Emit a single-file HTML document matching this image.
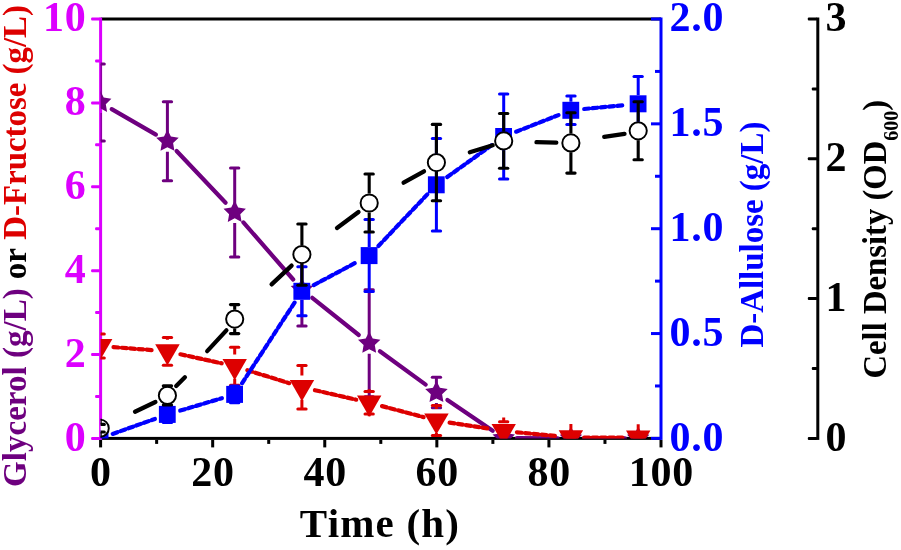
<!DOCTYPE html>
<html><head><meta charset="utf-8"><title>chart</title>
<style>html,body{margin:0;padding:0;background:#fff;}body{width:901px;height:550px;overflow:hidden;font-family:"Liberation Serif",serif;}</style>
</head><body>
<svg width="901" height="550" viewBox="0 0 901 550" style="display:block;will-change:transform">
<rect width="901" height="550" fill="#fff"/>
<defs><clipPath id="plot"><rect x="100.6" y="19.0" width="560.4" height="419.4"/></clipPath></defs>
<rect x="100.6" y="17.5" width="560.4" height="3.0" fill="#000000"/>
<rect x="100.6" y="436.9" width="560.4" height="3.0" fill="#000000"/>
<rect x="99.10" y="439.90" width="3.0" height="7.5" fill="#000000"/>
<rect x="155.14" y="439.90" width="3.0" height="4.0" fill="#000000"/>
<rect x="211.18" y="439.90" width="3.0" height="7.5" fill="#000000"/>
<rect x="267.22" y="439.90" width="3.0" height="4.0" fill="#000000"/>
<rect x="323.26" y="439.90" width="3.0" height="7.5" fill="#000000"/>
<rect x="379.30" y="439.90" width="3.0" height="4.0" fill="#000000"/>
<rect x="435.34" y="439.90" width="3.0" height="7.5" fill="#000000"/>
<rect x="491.38" y="439.90" width="3.0" height="4.0" fill="#000000"/>
<rect x="547.42" y="439.90" width="3.0" height="7.5" fill="#000000"/>
<rect x="603.46" y="439.90" width="3.0" height="4.0" fill="#000000"/>
<rect x="659.50" y="439.90" width="3.0" height="7.5" fill="#000000"/>
<rect x="99.10" y="17.50" width="3.0" height="422.40" fill="#DC00FF"/>
<rect x="91.10" y="436.90" width="9.0" height="3.0" rx="1" fill="#DC00FF"/>
<rect x="95.10" y="394.96" width="5.0" height="3.0" rx="1" fill="#DC00FF"/>
<rect x="91.10" y="353.02" width="9.0" height="3.0" rx="1" fill="#DC00FF"/>
<rect x="95.10" y="311.08" width="5.0" height="3.0" rx="1" fill="#DC00FF"/>
<rect x="91.10" y="269.14" width="9.0" height="3.0" rx="1" fill="#DC00FF"/>
<rect x="95.10" y="227.20" width="5.0" height="3.0" rx="1" fill="#DC00FF"/>
<rect x="91.10" y="185.26" width="9.0" height="3.0" rx="1" fill="#DC00FF"/>
<rect x="95.10" y="143.32" width="5.0" height="3.0" rx="1" fill="#DC00FF"/>
<rect x="91.10" y="101.38" width="9.0" height="3.0" rx="1" fill="#DC00FF"/>
<rect x="95.10" y="59.44" width="5.0" height="3.0" rx="1" fill="#DC00FF"/>
<rect x="91.10" y="17.50" width="9.0" height="3.0" rx="1" fill="#DC00FF"/>
<rect x="659.50" y="17.50" width="3.0" height="422.40" fill="#0000FF"/>
<rect x="651.00" y="436.90" width="9.5" height="3.0" fill="#0000FF"/>
<rect x="655.00" y="384.47" width="5.5" height="3.0" fill="#0000FF"/>
<rect x="651.00" y="332.05" width="9.5" height="3.0" fill="#0000FF"/>
<rect x="655.00" y="279.62" width="5.5" height="3.0" fill="#0000FF"/>
<rect x="651.00" y="227.20" width="9.5" height="3.0" fill="#0000FF"/>
<rect x="655.00" y="174.77" width="5.5" height="3.0" fill="#0000FF"/>
<rect x="651.00" y="122.35" width="9.5" height="3.0" fill="#0000FF"/>
<rect x="655.00" y="69.93" width="5.5" height="3.0" fill="#0000FF"/>
<rect x="651.00" y="17.50" width="9.5" height="3.0" fill="#0000FF"/>
<rect x="816.30" y="17.50" width="3.0" height="422.40" fill="#000000"/>
<rect x="807.80" y="436.90" width="9.5" height="3.0" rx="1" fill="#000000"/>
<rect x="811.80" y="367.00" width="5.5" height="3.0" rx="1" fill="#000000"/>
<rect x="807.80" y="297.10" width="9.5" height="3.0" rx="1" fill="#000000"/>
<rect x="811.80" y="227.20" width="5.5" height="3.0" rx="1" fill="#000000"/>
<rect x="807.80" y="157.30" width="9.5" height="3.0" rx="1" fill="#000000"/>
<rect x="811.80" y="87.40" width="5.5" height="3.0" rx="1" fill="#000000"/>
<rect x="807.80" y="17.50" width="9.5" height="3.0" rx="1" fill="#000000"/>
<g clip-path="url(#plot)">
<line x1="111.7" y1="109.1" x2="155.9" y2="134.6" stroke="#6E007F" stroke-width="4.2" stroke-linecap="round"/>
<line x1="176.6" y1="151.0" x2="225.6" y2="202.7" stroke="#6E007F" stroke-width="4.2" stroke-linecap="round"/>
<line x1="243.4" y1="222.4" x2="293.2" y2="279.5" stroke="#6E007F" stroke-width="4.2" stroke-linecap="round"/>
<line x1="312.3" y1="297.8" x2="358.8" y2="335.0" stroke="#6E007F" stroke-width="4.2" stroke-linecap="round"/>
<line x1="379.9" y1="351.2" x2="425.7" y2="384.6" stroke="#6E007F" stroke-width="4.2" stroke-linecap="round"/>
<line x1="447.4" y1="400.0" x2="492.7" y2="430.7" stroke="#6E007F" stroke-width="4.2" stroke-linecap="round"/>
<line x1="517.0" y1="438.2" x2="557.6" y2="438.4" stroke="#6E007F" stroke-width="4.2" stroke-linecap="round"/>
<line x1="584.2" y1="438.4" x2="624.9" y2="438.4" stroke="#6E007F" stroke-width="4.2" stroke-linecap="round"/>
<line x1="100.2" y1="94.4" x2="100.2" y2="63.9" stroke="#6E007F" stroke-width="3.0"/>
<line x1="96.0" y1="63.9" x2="104.3" y2="63.9" stroke="#6E007F" stroke-width="3.0" stroke-linecap="round"/>
<line x1="100.2" y1="112.9" x2="100.2" y2="140.9" stroke="#6E007F" stroke-width="3.0"/>
<line x1="96.0" y1="140.9" x2="104.3" y2="140.9" stroke="#6E007F" stroke-width="3.0" stroke-linecap="round"/>
<line x1="167.4" y1="133.3" x2="167.4" y2="101.8" stroke="#6E007F" stroke-width="3.0"/>
<line x1="163.3" y1="101.8" x2="171.6" y2="101.8" stroke="#6E007F" stroke-width="3.0" stroke-linecap="round"/>
<line x1="167.4" y1="151.8" x2="167.4" y2="180.8" stroke="#6E007F" stroke-width="3.0"/>
<line x1="163.3" y1="180.8" x2="171.6" y2="180.8" stroke="#6E007F" stroke-width="3.0" stroke-linecap="round"/>
<line x1="234.7" y1="204.4" x2="234.7" y2="167.9" stroke="#6E007F" stroke-width="3.0"/>
<line x1="230.5" y1="167.9" x2="238.8" y2="167.9" stroke="#6E007F" stroke-width="3.0" stroke-linecap="round"/>
<line x1="234.7" y1="222.9" x2="234.7" y2="256.9" stroke="#6E007F" stroke-width="3.0"/>
<line x1="230.5" y1="256.9" x2="238.8" y2="256.9" stroke="#6E007F" stroke-width="3.0" stroke-linecap="round"/>
<line x1="301.9" y1="281.5" x2="301.9" y2="253.0" stroke="#6E007F" stroke-width="3.0"/>
<line x1="297.8" y1="253.0" x2="306.1" y2="253.0" stroke="#6E007F" stroke-width="3.0" stroke-linecap="round"/>
<line x1="301.9" y1="300.0" x2="301.9" y2="326.0" stroke="#6E007F" stroke-width="3.0"/>
<line x1="297.8" y1="326.0" x2="306.1" y2="326.0" stroke="#6E007F" stroke-width="3.0" stroke-linecap="round"/>
<line x1="369.2" y1="335.3" x2="369.2" y2="289.8" stroke="#6E007F" stroke-width="3.0"/>
<line x1="365.0" y1="289.8" x2="373.3" y2="289.8" stroke="#6E007F" stroke-width="3.0" stroke-linecap="round"/>
<line x1="369.2" y1="353.8" x2="369.2" y2="396.8" stroke="#6E007F" stroke-width="3.0"/>
<line x1="365.0" y1="396.8" x2="373.3" y2="396.8" stroke="#6E007F" stroke-width="3.0" stroke-linecap="round"/>
<line x1="436.4" y1="384.5" x2="436.4" y2="377.2" stroke="#6E007F" stroke-width="3.0"/>
<line x1="432.3" y1="377.2" x2="440.6" y2="377.2" stroke="#6E007F" stroke-width="3.0" stroke-linecap="round"/>
<line x1="436.4" y1="403.0" x2="436.4" y2="407.8" stroke="#6E007F" stroke-width="3.0"/>
<line x1="432.3" y1="407.8" x2="440.6" y2="407.8" stroke="#6E007F" stroke-width="3.0" stroke-linecap="round"/>
<polygon points="100.2,90.6 103.7,97.6 111.4,98.8 105.8,104.2 107.1,111.9 100.2,108.3 93.3,111.9 94.6,104.2 89.0,98.8 96.7,97.6" fill="#6E007F"/>
<polygon points="167.4,129.5 170.9,136.5 178.7,137.7 173.1,143.1 174.4,150.8 167.4,147.2 160.5,150.8 161.8,143.1 156.2,137.7 164.0,136.5" fill="#6E007F"/>
<polygon points="234.7,200.6 238.2,207.6 245.9,208.8 240.3,214.2 241.6,221.9 234.7,218.3 227.8,221.9 229.1,214.2 223.5,208.8 231.2,207.6" fill="#6E007F"/>
<polygon points="301.9,277.7 305.4,284.7 313.2,285.9 307.6,291.3 308.9,299.0 301.9,295.4 295.0,299.0 296.3,291.3 290.7,285.9 298.5,284.7" fill="#6E007F"/>
<polygon points="369.2,331.5 372.7,338.5 380.4,339.7 374.8,345.1 376.1,352.8 369.2,349.2 362.3,352.8 363.6,345.1 358.0,339.7 365.7,338.5" fill="#6E007F"/>
<polygon points="436.4,380.7 439.9,387.7 447.7,388.9 442.1,394.3 443.4,402.0 436.4,398.4 429.5,402.0 430.8,394.3 425.2,388.9 433.0,387.7" fill="#6E007F"/>
<polygon points="503.7,426.4 507.2,433.4 514.9,434.6 509.3,440.0 510.6,447.7 503.7,444.1 496.8,447.7 498.1,440.0 492.5,434.6 500.2,433.4" fill="#6E007F"/>
<polygon points="570.9,426.6 574.4,433.6 582.2,434.8 576.5,440.2 577.9,447.9 570.9,444.3 564.0,447.9 565.3,440.2 559.7,434.8 567.5,433.6" fill="#6E007F"/>
<polygon points="638.2,426.6 641.7,433.6 649.4,434.8 643.8,440.2 645.1,447.9 638.2,444.3 631.2,447.9 632.6,440.2 627.0,434.8 634.7,433.6" fill="#6E007F"/>
<line x1="113.5" y1="347.1" x2="154.2" y2="350.3" stroke="#DD0000" stroke-width="4.2" stroke-linecap="round" stroke-dasharray="5 3.3"/>
<line x1="180.4" y1="354.3" x2="221.7" y2="363.3" stroke="#DD0000" stroke-width="4.2" stroke-linecap="round" stroke-dasharray="5 3.3"/>
<line x1="247.4" y1="370.2" x2="289.2" y2="383.2" stroke="#DD0000" stroke-width="4.2" stroke-linecap="round" stroke-dasharray="5 3.3"/>
<line x1="314.9" y1="390.2" x2="356.2" y2="399.7" stroke="#DD0000" stroke-width="4.2" stroke-linecap="round" stroke-dasharray="5 3.3"/>
<line x1="382.0" y1="406.1" x2="423.6" y2="417.1" stroke="#DD0000" stroke-width="4.2" stroke-linecap="round" stroke-dasharray="5 3.3"/>
<line x1="449.6" y1="422.6" x2="490.5" y2="428.9" stroke="#DD0000" stroke-width="4.2" stroke-linecap="round" stroke-dasharray="5 3.3"/>
<line x1="516.9" y1="432.3" x2="557.7" y2="436.1" stroke="#DD0000" stroke-width="4.2" stroke-linecap="round" stroke-dasharray="5 3.3"/>
<line x1="584.2" y1="437.5" x2="624.9" y2="437.6" stroke="#DD0000" stroke-width="4.2" stroke-linecap="round" stroke-dasharray="5 3.3"/>
<line x1="100.2" y1="334.4" x2="100.2" y2="334.0" stroke="#DD0000" stroke-width="3.0"/>
<line x1="96.0" y1="334.0" x2="104.3" y2="334.0" stroke="#DD0000" stroke-width="3.0" stroke-linecap="round"/>
<line x1="100.2" y1="358.5" x2="100.2" y2="358.0" stroke="#DD0000" stroke-width="3.0"/>
<line x1="96.0" y1="358.0" x2="104.3" y2="358.0" stroke="#DD0000" stroke-width="3.0" stroke-linecap="round"/>
<line x1="167.4" y1="339.8" x2="167.4" y2="337.5" stroke="#DD0000" stroke-width="3.0"/>
<line x1="163.3" y1="337.5" x2="171.6" y2="337.5" stroke="#DD0000" stroke-width="3.0" stroke-linecap="round"/>
<line x1="167.4" y1="363.9" x2="167.4" y2="365.3" stroke="#DD0000" stroke-width="3.0"/>
<line x1="163.3" y1="365.3" x2="171.6" y2="365.3" stroke="#DD0000" stroke-width="3.0" stroke-linecap="round"/>
<line x1="234.7" y1="354.6" x2="234.7" y2="347.2" stroke="#DD0000" stroke-width="3.0"/>
<line x1="230.5" y1="347.2" x2="238.8" y2="347.2" stroke="#DD0000" stroke-width="3.0" stroke-linecap="round"/>
<line x1="234.7" y1="378.7" x2="234.7" y2="385.2" stroke="#DD0000" stroke-width="3.0"/>
<line x1="230.5" y1="385.2" x2="238.8" y2="385.2" stroke="#DD0000" stroke-width="3.0" stroke-linecap="round"/>
<line x1="301.9" y1="375.6" x2="301.9" y2="365.5" stroke="#DD0000" stroke-width="3.0"/>
<line x1="297.8" y1="365.5" x2="306.1" y2="365.5" stroke="#DD0000" stroke-width="3.0" stroke-linecap="round"/>
<line x1="301.9" y1="399.7" x2="301.9" y2="408.9" stroke="#DD0000" stroke-width="3.0"/>
<line x1="297.8" y1="408.9" x2="306.1" y2="408.9" stroke="#DD0000" stroke-width="3.0" stroke-linecap="round"/>
<line x1="369.2" y1="389.2" x2="369.2" y2="391.4" stroke="#DD0000" stroke-width="3.0"/>
<line x1="365.0" y1="391.4" x2="373.3" y2="391.4" stroke="#DD0000" stroke-width="3.0" stroke-linecap="round"/>
<line x1="369.2" y1="416.2" x2="369.2" y2="414.0" stroke="#DD0000" stroke-width="3.0"/>
<line x1="365.0" y1="414.0" x2="373.3" y2="414.0" stroke="#DD0000" stroke-width="3.0" stroke-linecap="round"/>
<line x1="436.4" y1="408.9" x2="436.4" y2="405.5" stroke="#DD0000" stroke-width="3.0"/>
<line x1="432.3" y1="405.5" x2="440.6" y2="405.5" stroke="#DD0000" stroke-width="3.0" stroke-linecap="round"/>
<line x1="436.4" y1="433.0" x2="436.4" y2="435.5" stroke="#DD0000" stroke-width="3.0"/>
<line x1="432.3" y1="435.5" x2="440.6" y2="435.5" stroke="#DD0000" stroke-width="3.0" stroke-linecap="round"/>
<line x1="503.7" y1="417.5" x2="503.7" y2="421.8" stroke="#DD0000" stroke-width="3.0"/>
<line x1="499.5" y1="421.8" x2="507.8" y2="421.8" stroke="#DD0000" stroke-width="3.0" stroke-linecap="round"/>
<line x1="503.7" y1="444.5" x2="503.7" y2="440.2" stroke="#DD0000" stroke-width="3.0"/>
<line x1="499.5" y1="440.2" x2="507.8" y2="440.2" stroke="#DD0000" stroke-width="3.0" stroke-linecap="round"/>
<line x1="570.9" y1="423.9" x2="570.9" y2="435.4" stroke="#DD0000" stroke-width="3.0"/>
<line x1="566.8" y1="435.4" x2="575.1" y2="435.4" stroke="#DD0000" stroke-width="3.0" stroke-linecap="round"/>
<line x1="570.9" y1="450.9" x2="570.9" y2="439.4" stroke="#DD0000" stroke-width="3.0"/>
<line x1="566.8" y1="439.4" x2="575.1" y2="439.4" stroke="#DD0000" stroke-width="3.0" stroke-linecap="round"/>
<line x1="638.2" y1="424.2" x2="638.2" y2="435.7" stroke="#DD0000" stroke-width="3.0"/>
<line x1="634.0" y1="435.7" x2="642.3" y2="435.7" stroke="#DD0000" stroke-width="3.0" stroke-linecap="round"/>
<line x1="638.2" y1="451.2" x2="638.2" y2="439.7" stroke="#DD0000" stroke-width="3.0"/>
<line x1="634.0" y1="439.7" x2="642.3" y2="439.7" stroke="#DD0000" stroke-width="3.0" stroke-linecap="round"/>
<polygon points="88.0,338.9 112.4,338.9 100.2,360.1" fill="#DD0000"/>
<polygon points="155.2,344.3 179.7,344.3 167.4,365.5" fill="#DD0000"/>
<polygon points="222.5,359.1 246.9,359.1 234.7,380.3" fill="#DD0000"/>
<polygon points="289.7,380.1 314.2,380.1 301.9,401.3" fill="#DD0000"/>
<polygon points="357.0,395.6 381.4,395.6 369.2,416.8" fill="#DD0000"/>
<polygon points="424.2,413.4 448.7,413.4 436.4,434.6" fill="#DD0000"/>
<polygon points="491.5,423.9 515.9,423.9 503.7,445.1" fill="#DD0000"/>
<polygon points="558.7,430.3 583.1,430.3 570.9,451.5" fill="#DD0000"/>
<polygon points="626.0,430.6 650.4,430.6 638.2,451.8" fill="#DD0000"/>
<line x1="112.7" y1="433.9" x2="154.9" y2="418.9" stroke="#0000FF" stroke-width="4.2" stroke-linecap="round" stroke-dasharray="5 3.3"/>
<line x1="180.2" y1="410.6" x2="221.9" y2="398.2" stroke="#0000FF" stroke-width="4.2" stroke-linecap="round" stroke-dasharray="5 3.3"/>
<line x1="242.0" y1="383.3" x2="294.7" y2="302.4" stroke="#0000FF" stroke-width="4.2" stroke-linecap="round" stroke-dasharray="5 3.3"/>
<line x1="313.7" y1="285.1" x2="357.4" y2="261.8" stroke="#0000FF" stroke-width="4.2" stroke-linecap="round" stroke-dasharray="5 3.3"/>
<line x1="378.4" y1="246.0" x2="427.3" y2="194.4" stroke="#0000FF" stroke-width="4.2" stroke-linecap="round" stroke-dasharray="5 3.3"/>
<line x1="447.2" y1="177.0" x2="492.9" y2="144.3" stroke="#0000FF" stroke-width="4.2" stroke-linecap="round" stroke-dasharray="5 3.3"/>
<line x1="516.1" y1="131.7" x2="558.5" y2="115.1" stroke="#0000FF" stroke-width="4.2" stroke-linecap="round" stroke-dasharray="5 3.3"/>
<line x1="584.2" y1="109.0" x2="624.9" y2="105.1" stroke="#0000FF" stroke-width="4.2" stroke-linecap="round" stroke-dasharray="5 3.3"/>
<line x1="167.4" y1="405.9" x2="167.4" y2="406.4" stroke="#0000FF" stroke-width="3.0"/>
<line x1="163.3" y1="406.4" x2="171.6" y2="406.4" stroke="#0000FF" stroke-width="3.0" stroke-linecap="round"/>
<line x1="167.4" y1="422.9" x2="167.4" y2="422.4" stroke="#0000FF" stroke-width="3.0"/>
<line x1="163.3" y1="422.4" x2="171.6" y2="422.4" stroke="#0000FF" stroke-width="3.0" stroke-linecap="round"/>
<line x1="234.7" y1="385.9" x2="234.7" y2="386.1" stroke="#0000FF" stroke-width="3.0"/>
<line x1="230.5" y1="386.1" x2="238.8" y2="386.1" stroke="#0000FF" stroke-width="3.0" stroke-linecap="round"/>
<line x1="234.7" y1="402.9" x2="234.7" y2="402.7" stroke="#0000FF" stroke-width="3.0"/>
<line x1="230.5" y1="402.7" x2="238.8" y2="402.7" stroke="#0000FF" stroke-width="3.0" stroke-linecap="round"/>
<line x1="301.9" y1="282.8" x2="301.9" y2="266.8" stroke="#0000FF" stroke-width="3.0"/>
<line x1="297.8" y1="266.8" x2="306.1" y2="266.8" stroke="#0000FF" stroke-width="3.0" stroke-linecap="round"/>
<line x1="301.9" y1="299.8" x2="301.9" y2="315.8" stroke="#0000FF" stroke-width="3.0"/>
<line x1="297.8" y1="315.8" x2="306.1" y2="315.8" stroke="#0000FF" stroke-width="3.0" stroke-linecap="round"/>
<line x1="369.2" y1="247.1" x2="369.2" y2="219.6" stroke="#0000FF" stroke-width="3.0"/>
<line x1="365.0" y1="219.6" x2="373.3" y2="219.6" stroke="#0000FF" stroke-width="3.0" stroke-linecap="round"/>
<line x1="369.2" y1="264.1" x2="369.2" y2="291.6" stroke="#0000FF" stroke-width="3.0"/>
<line x1="365.0" y1="291.6" x2="373.3" y2="291.6" stroke="#0000FF" stroke-width="3.0" stroke-linecap="round"/>
<line x1="436.4" y1="176.3" x2="436.4" y2="138.5" stroke="#0000FF" stroke-width="3.0"/>
<line x1="432.3" y1="138.5" x2="440.6" y2="138.5" stroke="#0000FF" stroke-width="3.0" stroke-linecap="round"/>
<line x1="436.4" y1="193.3" x2="436.4" y2="231.1" stroke="#0000FF" stroke-width="3.0"/>
<line x1="432.3" y1="231.1" x2="440.6" y2="231.1" stroke="#0000FF" stroke-width="3.0" stroke-linecap="round"/>
<line x1="503.7" y1="128.0" x2="503.7" y2="93.9" stroke="#0000FF" stroke-width="3.0"/>
<line x1="499.5" y1="93.9" x2="507.8" y2="93.9" stroke="#0000FF" stroke-width="3.0" stroke-linecap="round"/>
<line x1="503.7" y1="145.0" x2="503.7" y2="179.1" stroke="#0000FF" stroke-width="3.0"/>
<line x1="499.5" y1="179.1" x2="507.8" y2="179.1" stroke="#0000FF" stroke-width="3.0" stroke-linecap="round"/>
<line x1="570.9" y1="101.8" x2="570.9" y2="96.0" stroke="#0000FF" stroke-width="3.0"/>
<line x1="566.8" y1="96.0" x2="575.1" y2="96.0" stroke="#0000FF" stroke-width="3.0" stroke-linecap="round"/>
<line x1="570.9" y1="118.8" x2="570.9" y2="124.6" stroke="#0000FF" stroke-width="3.0"/>
<line x1="566.8" y1="124.6" x2="575.1" y2="124.6" stroke="#0000FF" stroke-width="3.0" stroke-linecap="round"/>
<line x1="638.2" y1="95.3" x2="638.2" y2="76.5" stroke="#0000FF" stroke-width="3.0"/>
<line x1="634.0" y1="76.5" x2="642.3" y2="76.5" stroke="#0000FF" stroke-width="3.0" stroke-linecap="round"/>
<line x1="638.2" y1="112.3" x2="638.2" y2="131.1" stroke="#0000FF" stroke-width="3.0"/>
<line x1="634.0" y1="131.1" x2="642.3" y2="131.1" stroke="#0000FF" stroke-width="3.0" stroke-linecap="round"/>
<rect x="91.7" y="429.9" width="16.8" height="17" fill="#0000FF"/>
<rect x="158.9" y="405.9" width="16.8" height="17" fill="#0000FF"/>
<rect x="226.2" y="385.9" width="16.8" height="17" fill="#0000FF"/>
<rect x="293.4" y="282.8" width="16.8" height="17" fill="#0000FF"/>
<rect x="360.7" y="247.1" width="16.8" height="17" fill="#0000FF"/>
<rect x="427.9" y="176.3" width="16.8" height="17" fill="#0000FF"/>
<rect x="495.2" y="128.0" width="16.8" height="17" fill="#0000FF"/>
<rect x="562.4" y="101.8" width="16.8" height="17" fill="#0000FF"/>
<rect x="629.7" y="95.3" width="16.8" height="17" fill="#0000FF"/>
<line x1="135.0" y1="411.7" x2="155.4" y2="402.0" stroke="#000000" stroke-width="4.3" stroke-linecap="round"/>
<line x1="176.2" y1="386.0" x2="184.9" y2="377.3" stroke="#000000" stroke-width="4.3" stroke-linecap="round"/>
<line x1="207.2" y1="351.1" x2="226.4" y2="330.4" stroke="#000000" stroke-width="4.3" stroke-linecap="round"/>
<line x1="271.6" y1="284.4" x2="291.6" y2="265.6" stroke="#000000" stroke-width="4.3" stroke-linecap="round"/>
<line x1="337.0" y1="228.0" x2="358.5" y2="212.0" stroke="#000000" stroke-width="4.3" stroke-linecap="round"/>
<line x1="403.6" y1="182.7" x2="424.0" y2="171.3" stroke="#000000" stroke-width="4.3" stroke-linecap="round"/>
<line x1="469.8" y1="152.2" x2="492.7" y2="145.3" stroke="#000000" stroke-width="4.3" stroke-linecap="round"/>
<line x1="536.5" y1="142.2" x2="556.3" y2="142.7" stroke="#000000" stroke-width="4.3" stroke-linecap="round"/>
<line x1="604.2" y1="136.8" x2="624.5" y2="133.8" stroke="#000000" stroke-width="4.3" stroke-linecap="round"/>
<circle cx="100.2" cy="428.2" r="8.6" fill="#fff" stroke="#000000" stroke-width="1.95"/>
<circle cx="167.4" cy="395.4" r="8.6" fill="#fff" stroke="#000000" stroke-width="1.95"/>
<circle cx="234.7" cy="319.1" r="8.6" fill="#fff" stroke="#000000" stroke-width="1.95"/>
<circle cx="301.9" cy="254.6" r="8.6" fill="#fff" stroke="#000000" stroke-width="1.95"/>
<circle cx="369.2" cy="203.0" r="8.6" fill="#fff" stroke="#000000" stroke-width="1.95"/>
<circle cx="436.4" cy="162.6" r="8.6" fill="#fff" stroke="#000000" stroke-width="1.95"/>
<circle cx="503.7" cy="140.9" r="8.6" fill="#fff" stroke="#000000" stroke-width="1.95"/>
<circle cx="570.9" cy="142.9" r="8.6" fill="#fff" stroke="#000000" stroke-width="1.95"/>
<circle cx="638.2" cy="130.8" r="8.6" fill="#fff" stroke="#000000" stroke-width="1.95"/>
<line x1="100.2" y1="418.8" x2="100.2" y2="424.4" stroke="#000000" stroke-width="3.1"/>
<line x1="96.0" y1="424.4" x2="104.3" y2="424.4" stroke="#000000" stroke-width="3.1" stroke-linecap="round"/>
<line x1="100.2" y1="437.6" x2="100.2" y2="432.0" stroke="#000000" stroke-width="3.1"/>
<line x1="96.0" y1="432.0" x2="104.3" y2="432.0" stroke="#000000" stroke-width="3.1" stroke-linecap="round"/>
<line x1="167.4" y1="386.0" x2="167.4" y2="385.8" stroke="#000000" stroke-width="3.1"/>
<line x1="163.3" y1="385.8" x2="171.6" y2="385.8" stroke="#000000" stroke-width="3.1" stroke-linecap="round"/>
<line x1="167.4" y1="404.8" x2="167.4" y2="405.0" stroke="#000000" stroke-width="3.1"/>
<line x1="163.3" y1="405.0" x2="171.6" y2="405.0" stroke="#000000" stroke-width="3.1" stroke-linecap="round"/>
<line x1="234.7" y1="309.7" x2="234.7" y2="304.6" stroke="#000000" stroke-width="3.1"/>
<line x1="230.5" y1="304.6" x2="238.8" y2="304.6" stroke="#000000" stroke-width="3.1" stroke-linecap="round"/>
<line x1="234.7" y1="328.5" x2="234.7" y2="333.6" stroke="#000000" stroke-width="3.1"/>
<line x1="230.5" y1="333.6" x2="238.8" y2="333.6" stroke="#000000" stroke-width="3.1" stroke-linecap="round"/>
<line x1="301.9" y1="245.2" x2="301.9" y2="224.0" stroke="#000000" stroke-width="3.1"/>
<line x1="297.8" y1="224.0" x2="306.1" y2="224.0" stroke="#000000" stroke-width="3.1" stroke-linecap="round"/>
<line x1="301.9" y1="264.0" x2="301.9" y2="285.2" stroke="#000000" stroke-width="3.1"/>
<line x1="297.8" y1="285.2" x2="306.1" y2="285.2" stroke="#000000" stroke-width="3.1" stroke-linecap="round"/>
<line x1="369.2" y1="193.6" x2="369.2" y2="174.0" stroke="#000000" stroke-width="3.1"/>
<line x1="365.0" y1="174.0" x2="373.3" y2="174.0" stroke="#000000" stroke-width="3.1" stroke-linecap="round"/>
<line x1="369.2" y1="212.4" x2="369.2" y2="232.0" stroke="#000000" stroke-width="3.1"/>
<line x1="365.0" y1="232.0" x2="373.3" y2="232.0" stroke="#000000" stroke-width="3.1" stroke-linecap="round"/>
<line x1="436.4" y1="153.2" x2="436.4" y2="124.4" stroke="#000000" stroke-width="3.1"/>
<line x1="432.3" y1="124.4" x2="440.6" y2="124.4" stroke="#000000" stroke-width="3.1" stroke-linecap="round"/>
<line x1="436.4" y1="172.0" x2="436.4" y2="200.8" stroke="#000000" stroke-width="3.1"/>
<line x1="432.3" y1="200.8" x2="440.6" y2="200.8" stroke="#000000" stroke-width="3.1" stroke-linecap="round"/>
<line x1="503.7" y1="131.5" x2="503.7" y2="113.5" stroke="#000000" stroke-width="3.1"/>
<line x1="499.5" y1="113.5" x2="507.8" y2="113.5" stroke="#000000" stroke-width="3.1" stroke-linecap="round"/>
<line x1="503.7" y1="150.3" x2="503.7" y2="168.3" stroke="#000000" stroke-width="3.1"/>
<line x1="499.5" y1="168.3" x2="507.8" y2="168.3" stroke="#000000" stroke-width="3.1" stroke-linecap="round"/>
<line x1="570.9" y1="133.5" x2="570.9" y2="112.7" stroke="#000000" stroke-width="3.1"/>
<line x1="566.8" y1="112.7" x2="575.1" y2="112.7" stroke="#000000" stroke-width="3.1" stroke-linecap="round"/>
<line x1="570.9" y1="152.3" x2="570.9" y2="173.1" stroke="#000000" stroke-width="3.1"/>
<line x1="566.8" y1="173.1" x2="575.1" y2="173.1" stroke="#000000" stroke-width="3.1" stroke-linecap="round"/>
<line x1="638.2" y1="121.4" x2="638.2" y2="101.8" stroke="#000000" stroke-width="3.1"/>
<line x1="634.0" y1="101.8" x2="642.3" y2="101.8" stroke="#000000" stroke-width="3.1" stroke-linecap="round"/>
<line x1="638.2" y1="140.2" x2="638.2" y2="159.8" stroke="#000000" stroke-width="3.1"/>
<line x1="634.0" y1="159.8" x2="642.3" y2="159.8" stroke="#000000" stroke-width="3.1" stroke-linecap="round"/>
</g>
<text x="86.6" y="450.6" font-size="42" fill="#DC00FF" text-anchor="end" letter-spacing="0.8" font-family="'Liberation Serif', serif" font-weight="bold">0</text>
<text x="86.6" y="366.7" font-size="42" fill="#DC00FF" text-anchor="end" letter-spacing="0.8" font-family="'Liberation Serif', serif" font-weight="bold">2</text>
<text x="86.6" y="282.8" font-size="42" fill="#DC00FF" text-anchor="end" letter-spacing="0.8" font-family="'Liberation Serif', serif" font-weight="bold">4</text>
<text x="86.6" y="199.0" font-size="42" fill="#DC00FF" text-anchor="end" letter-spacing="0.8" font-family="'Liberation Serif', serif" font-weight="bold">6</text>
<text x="86.6" y="115.1" font-size="42" fill="#DC00FF" text-anchor="end" letter-spacing="0.8" font-family="'Liberation Serif', serif" font-weight="bold">8</text>
<text x="86.6" y="31.2" font-size="42" fill="#DC00FF" text-anchor="end" letter-spacing="0.8" font-family="'Liberation Serif', serif" font-weight="bold">10</text>
<text x="669.5" y="450.6" font-size="42" fill="#0000FF" letter-spacing="0.8" font-family="'Liberation Serif', serif" font-weight="bold">0.0</text>
<text x="669.5" y="345.7" font-size="42" fill="#0000FF" letter-spacing="0.8" font-family="'Liberation Serif', serif" font-weight="bold">0.5</text>
<text x="669.5" y="240.9" font-size="42" fill="#0000FF" letter-spacing="0.8" font-family="'Liberation Serif', serif" font-weight="bold">1.0</text>
<text x="669.5" y="136.1" font-size="42" fill="#0000FF" letter-spacing="0.8" font-family="'Liberation Serif', serif" font-weight="bold">1.5</text>
<text x="669.5" y="31.2" font-size="42" fill="#0000FF" letter-spacing="0.8" font-family="'Liberation Serif', serif" font-weight="bold">2.0</text>
<text x="825.4" y="450.6" font-size="42" fill="#000000" font-family="'Liberation Serif', serif" font-weight="bold">0</text>
<text x="825.4" y="310.8" font-size="42" fill="#000000" font-family="'Liberation Serif', serif" font-weight="bold">1</text>
<text x="825.4" y="171.0" font-size="42" fill="#000000" font-family="'Liberation Serif', serif" font-weight="bold">2</text>
<text x="825.4" y="31.2" font-size="42" fill="#000000" font-family="'Liberation Serif', serif" font-weight="bold">3</text>
<text x="101.0" y="486" font-size="42" fill="#000000" text-anchor="middle" letter-spacing="0.8" font-family="'Liberation Serif', serif" font-weight="bold">0</text>
<text x="213.1" y="486" font-size="42" fill="#000000" text-anchor="middle" letter-spacing="0.8" font-family="'Liberation Serif', serif" font-weight="bold">20</text>
<text x="325.2" y="486" font-size="42" fill="#000000" text-anchor="middle" letter-spacing="0.8" font-family="'Liberation Serif', serif" font-weight="bold">40</text>
<text x="437.2" y="486" font-size="42" fill="#000000" text-anchor="middle" letter-spacing="0.8" font-family="'Liberation Serif', serif" font-weight="bold">60</text>
<text x="549.3" y="486" font-size="42" fill="#000000" text-anchor="middle" letter-spacing="0.8" font-family="'Liberation Serif', serif" font-weight="bold">80</text>
<text x="661.4" y="486" font-size="42" fill="#000000" text-anchor="middle" letter-spacing="0.8" font-family="'Liberation Serif', serif" font-weight="bold">100</text>
<text x="380" y="536.6" font-size="41" fill="#000000" text-anchor="middle" letter-spacing="1.2" font-family="'Liberation Serif', serif" font-weight="bold">Time (h)</text>
<text transform="translate(26.3,487) rotate(-90)" font-size="32.9" font-family="'Liberation Serif', serif" font-weight="bold"><tspan fill="#6E007F" font-size="33.1">Glycerol (g/L)</tspan><tspan fill="#000000" dx="0.9"> or </tspan><tspan fill="#DD0000" dx="0.7">D-Fructose (g/L)</tspan></text>
<text transform="translate(762.8,234.6) rotate(-90)" font-size="32.95" fill="#0000FF" text-anchor="middle" font-family="'Liberation Serif', serif" font-weight="bold">D-Allulose (g/L)</text>
<text transform="translate(886,378.5) rotate(-90)" font-size="32.7" fill="#000000" font-family="'Liberation Serif', serif" font-weight="bold">Cell Density (OD<tspan font-size="20" dy="11.5">600</tspan><tspan dy="-11.5">)</tspan></text>
</svg>
</body></html>
